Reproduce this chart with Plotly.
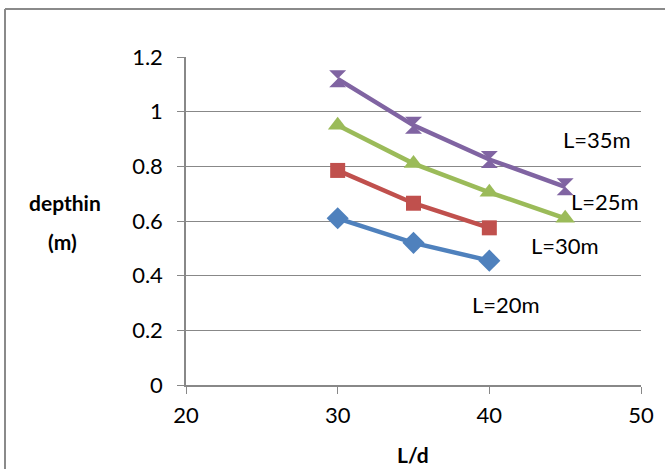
import plotly.graph_objects as go

x_vals = [30, 35, 40, 45]
names = ["L=20m", "L=30m", "L=25m", "L=35m"]
y_l20 = [0.61, 0.52, 0.455]
y_l30 = [0.785, 0.665, 0.575]
y_l25 = [0.95, 0.81, 0.705, 0.61]
y_l35 = [1.12, 0.95, 0.825, 0.725]
x_ticks = [20, 30, 40, 50]
y_ticks = [0, 0.2, 0.4, 0.6, 0.8, 1.0, 1.2]
y_ticktext = ["0", "0.2", "0.4", "0.6", "0.8", "1", "1.2"]

colors = ["#4F81BD", "#C0504D", "#9BBB59", "#8064A2"]
symbols = ["diamond", "square", "triangle-up", "hourglass"]
sizes = [17, 15, 17, 17]
series = [y_l20, y_l30, y_l25, y_l35]
label_pos = [(41.1, 0.296), (45.0, 0.512), (47.6, 0.673), (47.1, 0.90)]

FONT = "Lato, 'Open Sans', sans-serif"
L, T, R, B = 186, 57, 641, 385
PW, PH = R - L, B - T

fig = go.Figure()
for name, ys, c, s, sz in zip(names, series, colors, symbols, sizes):
    fig.add_trace(go.Scatter(
        x=x_vals[:len(ys)], y=ys, mode="lines+markers", name=name,
        line=dict(color=c, width=4.5),
        marker=dict(symbol=s, size=sz, color=c),
        showlegend=False,
    ))

for name, (lx, ly) in zip(names, label_pos):
    fig.add_annotation(x=lx, y=ly, text=name, showarrow=False,
                       font=dict(size=22, color="#000", family=FONT))

fig.add_annotation(xref="paper", yref="paper", x=(65 - L) / PW, y=(B - 203) / PH,
                   xanchor="center", yanchor="middle",
                   text="<b>depthin</b>", showarrow=False,
                   font=dict(size=21, color="#000", family=FONT))
fig.add_annotation(xref="paper", yref="paper", x=(62 - L) / PW, y=(B - 241) / PH,
                   xanchor="center", yanchor="middle",
                   text="<b>(m)</b>", showarrow=False,
                   font=dict(size=21, color="#000", family=FONT))
fig.add_annotation(xref="paper", yref="paper", x=(413 - L) / PW, y=(B - 454) / PH,
                   xanchor="center", yanchor="middle",
                   text="<b>L/d</b>", showarrow=False,
                   font=dict(size=21, color="#000", family=FONT))

fig.update_layout(
    width=665, height=469,
    margin=dict(l=L, r=665 - R, t=T, b=469 - B, autoexpand=False),
    paper_bgcolor="white", plot_bgcolor="white",
    font=dict(family=FONT, size=22, color="#000"),
    xaxis=dict(range=[20, 50], tickvals=x_ticks, showgrid=False,
               showline=True, linecolor="#888", linewidth=1.5,
               ticks="outside", ticklen=7, tickcolor="#888",
               ticklabelstandoff=3, zeroline=False, automargin=False),
    yaxis=dict(range=[0, 1.2], tickvals=y_ticks, ticktext=y_ticktext,
               showgrid=True, gridcolor="#888", gridwidth=1,
               showline=True, linecolor="#888", linewidth=1.5,
               ticks="outside", ticklen=7, tickcolor="#888",
               ticklabelstandoff=10, zeroline=False, automargin=False),
    shapes=[
        dict(type="line", xref="paper", yref="paper",
             x0=(5 - L) / PW, x1=(700 - L) / PW,
             y0=(B - 9) / PH, y1=(B - 9) / PH,
             line=dict(color="#8a8a8a", width=2)),
        dict(type="line", xref="paper", yref="paper",
             x0=(5 - L) / PW, x1=(5 - L) / PW,
             y0=(B - 9) / PH, y1=(B - 500) / PH,
             line=dict(color="#8a8a8a", width=2)),
    ],
)

fig.write_html("out.html", config={"displayModeBar": False},
               post_script="document.body.style.margin='0';")
